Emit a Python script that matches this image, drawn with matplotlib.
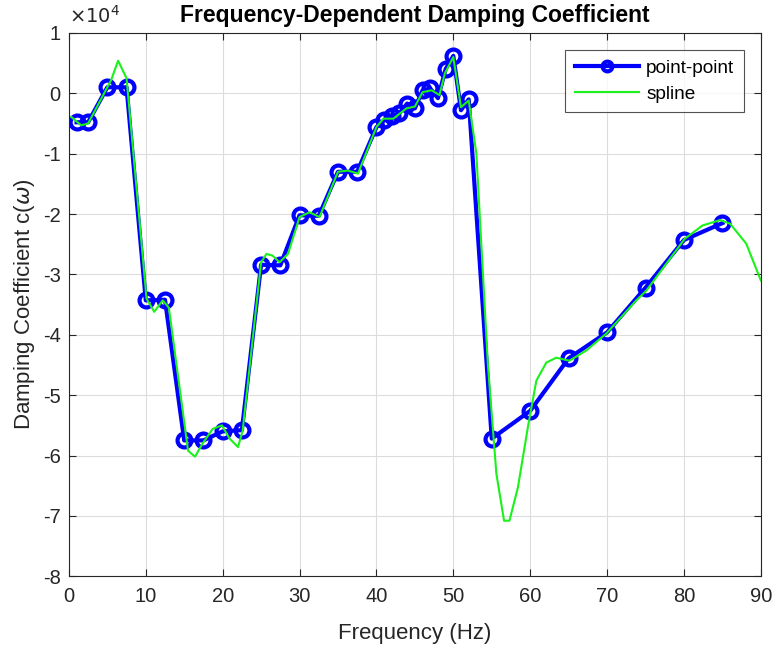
import matplotlib
matplotlib.use("Agg")
import matplotlib.pyplot as plt
from matplotlib.ticker import FuncFormatter

plt.rcParams["font.family"] = ["Liberation Sans", "DejaVu Sans"]

# measured points (Hz, N*s/m)
freq = [1, 2.5, 5, 7.5, 10, 12.5, 15, 17.5, 20, 22.5, 25, 27.5, 30, 32.5, 35, 37.5,
        40, 41, 42, 43, 44, 45, 46, 47, 48, 49, 50, 51, 52,
        55, 60, 65, 70, 75, 80, 85]
damp = [-4800, -4800, 1000, 1000, -34300, -34200, -57500, -57500, -56000, -55800,
        -28400, -28500, -20200, -20300, -13000, -13000,
        -5600, -4500, -3800, -3300, -1700, -2500, 500, 800, -800, 4000, 6200, -2800, -1000,
        -57200, -52600, -43900, -39600, -32200, -24300, -21500]

# spline curve as drawn
spl_freq = [0.3, 1.6, 2.5, 5.5, 6.4, 7.5, 10.1, 11.1, 12.2, 13.0, 15.5, 16.4, 17.4,
            18.7, 19.9, 20.9, 22.0, 22.6, 25.0, 25.7, 26.5, 27.4, 28.5, 30.0, 31.3,
            32.6, 35.0, 36.3, 37.6, 40.0, 40.9, 42.2, 43.9, 45.0, 46.0, 47.2, 48.2,
            48.9, 50.0, 51.0, 52.0, 53.0, 54.5, 55.6, 56.6, 57.3, 58.4, 59.7, 60.8,
            62.1, 63.4, 65.1, 67.3, 69.9, 73.8, 75.1, 80.1, 82.4, 84.7, 86.0, 88.1, 90.0]
spl_damp = [-3900, -5300, -5000, 2200, 5400, 2500, -34000, -36200, -34300, -35500,
            -59200, -60200, -58000, -55600, -55000, -57200, -58600, -55900, -28000,
            -26600, -26900, -28000, -26600, -20500, -19700, -20500, -13000, -12800,
            -13300, -5600, -4200, -4200, -2500, -2200, 200, 500, -300, 3300, 6000,
            -2300, -1200, -10000, -45000, -63000, -70800, -70800, -65300, -55300,
            -47600, -44600, -43800, -44300, -42600, -39800, -34300, -32700, -24100,
            -21900, -21000, -21600, -24900, -31000]

fig = plt.figure(figsize=(7.74, 6.46), dpi=100)
ax = fig.add_axes([0.089, 0.108, 0.894, 0.841])

ax.plot(freq, damp, "-o", color=(0, 0, 1), lw=3, ms=10, mew=3,
        mfc="none", label="point-point")
ax.plot(spl_freq, spl_damp, "-", color=(0.1, 0.95, 0.1), lw=1.5, label="spline")

ax.set_xlim(0, 90)
ax.set_ylim(-80000, 10000)
ax.set_xticks(range(0, 91, 10))
ax.set_yticks(range(-80000, 10001, 10000))
ax.yaxis.set_major_formatter(FuncFormatter(lambda v, p: "%d" % round(v / 1e4)))
ax.grid(True, color="#dcdcdc", lw=0.8)
ax.set_axisbelow(True)
ax.tick_params(direction="in", top=True, right=True, labelsize=14.5,
               colors="#262626", length=5)
ax.tick_params(axis="x", pad=8)
ax.tick_params(axis="y", pad=6)
for s in ax.spines.values():
    s.set_color("#262626")

ax.text(0.0, 1.012, r"$\times10^{4}$", transform=ax.transAxes, fontsize=14,
        color="#262626", ha="left", va="bottom")
ax.set_xlabel("Frequency (Hz)", fontsize=16, color="#262626", labelpad=12)
ax.set_ylabel(r"Damping Coefficient c($\omega$)", fontsize=16, color="#262626",
              labelpad=4)
ax.set_title("Frequency-Dependent Damping Coefficient", fontsize=16.5,
             fontweight="bold", pad=8)

leg = ax.legend(loc="upper right", fontsize=13.7, fancybox=False,
                edgecolor="#262626", borderaxespad=0.9, handlelength=3.4,
                labelspacing=0.45, borderpad=0.5, handletextpad=0.35)
leg.get_frame().set_linewidth(0.8)
leg.legend_handles[0].set_markersize(7)

fig.savefig("out.png", dpi=100)
